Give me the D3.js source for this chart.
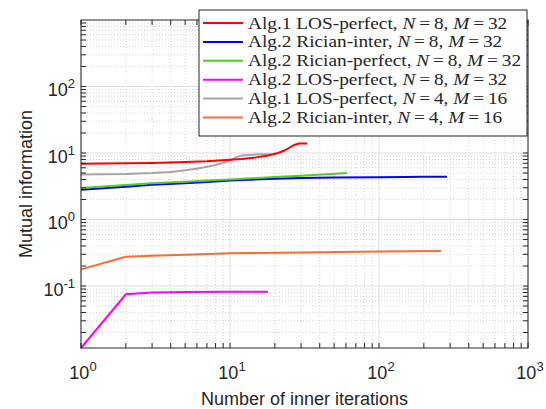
<!DOCTYPE html>
<html>
<head>
<meta charset="utf-8">
<script src="https://cdn.jsdelivr.net/npm/d3@7"></script>
<style>
  body { margin: 0; background: #fff; }
  text { fill: #262626; }
</style>
</head>
<body>
<script>
// series data
const labels = [
  ['Alg.1 LOS-perfect, ', '8', '32'],
  ['Alg.2 Rician-inter, ', '8', '32'],
  ['Alg.2 Rician-perfect, ', '8', '32'],
  ['Alg.2 LOS-perfect, ', '8', '32'],
  ['Alg.1 LOS-perfect, ', '4', '16'],
  ['Alg.2 Rician-inter, ', '4', '16']
];
const colors = ['#ff0000', '#0000ff', '#52cc1f', '#ff00ff', '#a6a6a6', '#ff6a2e'];

const redIter = [1, 2, 3, 5, 7, 10, 12, 15, 18, 21, 23, 25, 27, 29, 33];
const redVal = [6.9, 7.0, 7.1, 7.3, 7.5, 7.9, 8.1, 8.6, 9.2, 10.0, 10.8, 12.0, 13.2, 13.9, 13.9];

const blueIter = [1, 2, 3, 5, 7, 10, 20, 30, 50, 100, 150, 200, 286];
const blueVal = [2.8, 3.1, 3.33, 3.5, 3.65, 3.87, 4.1, 4.2, 4.28, 4.33, 4.36, 4.38, 4.4];

const greenIter = [1, 2, 3, 5, 7, 10, 20, 30, 45, 61];
const greenVal = [2.98, 3.3, 3.5, 3.7, 3.85, 4.0, 4.35, 4.56, 4.8, 5.0];

const magIter = [1, 2, 3, 5, 10, 18];
const magVal = [0.0117, 0.075, 0.08, 0.081, 0.082, 0.082];

const grayIter = [1, 2, 3, 4, 5, 6, 7, 8, 9, 10, 11, 12, 14, 16, 19];
const grayVal = [4.77, 4.85, 5.0, 5.2, 5.5, 5.8, 6.2, 6.6, 7.1, 7.7, 8.6, 9.2, 9.45, 9.55, 9.6];

const orangeIter = [1, 2, 3, 5, 10, 30, 100, 261];
const orangeVal = [0.178, 0.275, 0.285, 0.295, 0.31, 0.32, 0.33, 0.336];

const xTicks = [1, 10, 100, 1000];
const yTicks = [0.1, 1, 10, 100];

const series = [
  [redIter, redVal], [blueIter, blueVal], [greenIter, greenVal],
  [magIter, magVal], [grayIter, grayVal], [orangeIter, orangeVal]
];
// drawing order: grey under red as in the figure
const drawOrder = [4, 5, 3, 1, 2, 0];

const width = 546, height = 409;
const margin = { top: 20, right: 18, bottom: 61, left: 81 };

const svg = d3.select('body').append('svg')
  .attr('width', width)
  .attr('height', height)
  .style('font-family', '"Liberation Sans", Arial, sans-serif');

const x = d3.scaleLog()
  .domain([1, 1000])
  .range([margin.left, width - margin.right]);
const y = d3.scaleLog()
  .domain([0.0117, 1000])
  .range([height - margin.bottom, margin.top]);

const x0 = x.range()[0], x1 = x.range()[1];
const y0 = y.range()[0], y1 = y.range()[1];

// minor ticks 2..9 of each decade
function minors(lo, hi) {
  const out = [];
  for (let e = Math.floor(Math.log10(lo)); e < Math.ceil(Math.log10(hi)); e++) {
    for (let k = 2; k <= 9; k++) {
      const v = k * Math.pow(10, e);
      if (v > lo && v < hi) out.push(v);
    }
  }
  return out;
}
const xMinor = minors(1, 1000);
const yMinor = minors(0.0117, 1000);

// grid
const grid = svg.append('g');
grid.selectAll('.xmin').data(xMinor).enter().append('line')
  .attr('x1', d => x(d)).attr('x2', d => x(d))
  .attr('y1', y0).attr('y2', y1)
  .attr('stroke', '#c8c8c8').attr('stroke-width', 0.8).attr('stroke-dasharray', '1,2');
grid.selectAll('.ymin').data(yMinor).enter().append('line')
  .attr('y1', d => y(d)).attr('y2', d => y(d))
  .attr('x1', x0).attr('x2', x1)
  .attr('stroke', '#c8c8c8').attr('stroke-width', 0.8).attr('stroke-dasharray', '1,2');
grid.selectAll('.xmaj').data(xTicks).enter().append('line')
  .attr('x1', d => x(d)).attr('x2', d => x(d))
  .attr('y1', y0).attr('y2', y1)
  .attr('stroke', '#dedede').attr('stroke-width', 1);
grid.selectAll('.ymaj').data(yTicks).enter().append('line')
  .attr('y1', d => y(d)).attr('y2', d => y(d))
  .attr('x1', x0).attr('x2', x1)
  .attr('stroke', '#dedede').attr('stroke-width', 1);

// lines
const line = d3.line()
  .x(d => x(d[0]))
  .y(d => y(d[1]));

drawOrder.forEach(i => {
  const [it, val] = series[i];
  svg.append('path')
    .datum(it.map((v, k) => [v, val[k]]))
    .attr('d', line)
    .attr('fill', 'none')
    .attr('stroke', colors[i])
    .attr('stroke-width', 2);
});

// axes with inside ticks on all four sides (box on)
const tl = 5;
function sideTicks(sel, vals, fn) {
  sel.selectAll(null).data(vals).enter().append('line')
    .each(function (d) { fn(d3.select(this), d); })
    .attr('stroke', '#262626').attr('stroke-width', 1);
}
const axes = svg.append('g');
const allX = xTicks.concat(xMinor), allY = yTicks.concat(yMinor);
sideTicks(axes, allX, (s, d) => s.attr('x1', x(d)).attr('x2', x(d)).attr('y1', y0).attr('y2', y0 - tl));
sideTicks(axes, allX, (s, d) => s.attr('x1', x(d)).attr('x2', x(d)).attr('y1', y1).attr('y2', y1 + tl));
sideTicks(axes, allY, (s, d) => s.attr('y1', y(d)).attr('y2', y(d)).attr('x1', x0).attr('x2', x0 + tl));
sideTicks(axes, allY, (s, d) => s.attr('y1', y(d)).attr('y2', y(d)).attr('x1', x1).attr('x2', x1 - tl));

axes.append('rect')
  .attr('x', x0).attr('y', y1)
  .attr('width', x1 - x0).attr('height', y0 - y1)
  .attr('fill', 'none').attr('stroke', '#262626').attr('stroke-width', 1);

// tick labels 10^n
function powLabel(sel, d) {
  const e = Math.round(Math.log10(d));
  sel.append('tspan').text('10');
  sel.append('tspan').text(e).attr('dy', -8).attr('font-size', 13);
}
svg.selectAll('.xl').data(xTicks).enter().append('text')
  .attr('x', d => x(d) + 2)
  .attr('y', y0 + 31)
  .attr('text-anchor', 'middle')
  .attr('font-size', 18)
  .each(function (d) { powLabel(d3.select(this), d); });

svg.selectAll('.yl').data(yTicks).enter().append('text')
  .attr('x', x0 - 6)
  .attr('y', d => y(d) + 9.5)
  .attr('text-anchor', 'end')
  .attr('font-size', 18)
  .each(function (d) { powLabel(d3.select(this), d); });

// axis titles
svg.append('text')
  .text('Number of inner iterations')
  .attr('x', (x0 + x1) / 2)
  .attr('y', 405)
  .attr('text-anchor', 'middle')
  .attr('font-size', 18);

svg.append('text')
  .text('Mutual information')
  .attr('transform', `translate(32, ${(y0 + y1) / 2}) rotate(-90)`)
  .attr('text-anchor', 'middle')
  .attr('font-size', 18);

// legend
const lg = svg.append('g');
lg.append('rect')
  .attr('x', 199).attr('y', 10)
  .attr('width', 328).attr('height', 126)
  .attr('fill', '#fff').attr('stroke', '#262626').attr('stroke-width', 1);

labels.forEach((lab, i) => {
  const cy = 23 + i * 18.9;
  lg.append('line')
    .attr('x1', 203).attr('x2', 243)
    .attr('y1', cy).attr('y2', cy)
    .attr('stroke', colors[i]).attr('stroke-width', 2);
  const t = lg.append('text')
    .attr('x', 248).attr('y', cy + 5.5)
    .attr('font-family', '"Liberation Serif", "DejaVu Serif", serif')
    .attr('font-size', 16.5);
  t.append('tspan').text(lab[0]);
  t.append('tspan').text('N').attr('font-style', 'italic');
  t.append('tspan').text('\u2009=\u2009' + lab[1] + ', ');
  t.append('tspan').text('M').attr('font-style', 'italic');
  t.append('tspan').text('\u2009=\u2009' + lab[2]);
  // widen to the Computer Modern look of the original
  const w = t.node().getComputedTextLength();
  t.attr('textLength', w * 1.17).attr('lengthAdjust', 'spacingAndGlyphs');
});
</script>
</body>
</html>
